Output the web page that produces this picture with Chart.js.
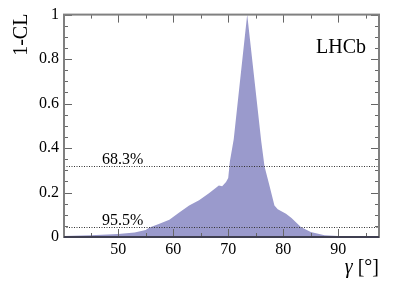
<!DOCTYPE html>
<html>
<head>
<meta charset="utf-8">
<script src="https://cdn.jsdelivr.net/npm/chart.js@4.4.0/dist/chart.umd.min.js"></script>
<style>
  html, body { margin: 0; padding: 0; background: #fff; }
  #wrap { width: 399px; height: 286px; }
</style>
</head>
<body>
<div id="wrap"><canvas id="myChart" width="399" height="286"></canvas></div>
<script>
// gamma scan (degrees) and 1-CL
const gamma = [40.2, 45, 50, 53, 55, 55.7, 57.5, 59.3, 61.1, 62.9, 64.7, 66.5, 68.3, 68.9, 69.6, 70.0, 70.3, 71.0,
  73.45, 76.0, 76.6, 77.4, 78.4, 79.0, 80.5, 81.5, 83.2, 85.0, 87.5, 90, 97.4];
const oneMinusCL = [0.004, 0.008, 0.013, 0.02, 0.032, 0.043, 0.06, 0.078, 0.11, 0.142, 0.165, 0.197, 0.232, 0.228, 0.247, 0.265, 0.34, 0.44,
  1.0, 0.43, 0.317, 0.24, 0.142, 0.125, 0.105, 0.085, 0.045, 0.022, 0.008, 0.004, 0.002];

const xTicks = [50, 60, 70, 80, 90];
const xMinorTicks = [45, 55, 65, 75, 85, 95];
const clLevels = [0.317, 0.0455];
const clLabels = ['68.3%', '95.5%'];

const serif = 'Liberation Serif';
Chart.defaults.font.family = serif;
Chart.defaults.color = '#000';

const framePlugin = {
  id: 'frame',
  afterDatasetsDraw(chart) {
    const ctx = chart.ctx;
    const ca = chart.chartArea;
    const xs = chart.scales.x, ys = chart.scales.y;
    ctx.save();

    // confidence level lines
    ctx.strokeStyle = '#333';
    ctx.lineWidth = 1;
    ctx.setLineDash([1, 1.5]);
    ctx.fillStyle = '#000';
    ctx.font = '16px "' + serif + '"';
    ctx.textAlign = 'left';
    ctx.textBaseline = 'alphabetic';
    clLevels.forEach((lvl, i) => {
      const y = Math.round(ys.getPixelForValue(lvl)) + 0.5;
      ctx.beginPath();
      ctx.moveTo(ca.left, y);
      ctx.lineTo(ca.right, y);
      ctx.stroke();
      ctx.fillText(clLabels[i], 102, y - 3);
    });
    ctx.setLineDash([]);

    // ticks
    ctx.strokeStyle = '#666';
    ctx.lineWidth = 1;
    ctx.beginPath();
    const xt = (v, len) => {
      const x = Math.round(xs.getPixelForValue(v)) + 0.5;
      ctx.moveTo(x, ca.bottom); ctx.lineTo(x, ca.bottom - len);
      ctx.moveTo(x, ca.top); ctx.lineTo(x, ca.top + len);
    };
    xTicks.forEach(v => xt(v, 8));
    xMinorTicks.forEach(v => xt(v, 4));
    for (let k = 0; k <= 20; k++) {
      const v = k * 0.05;
      const len = (k % 4 === 0) ? 8 : 4;
      const y = Math.round(ys.getPixelForValue(v)) + 0.5;
      ctx.moveTo(ca.left, y); ctx.lineTo(ca.left + len, y);
      ctx.moveTo(ca.right, y); ctx.lineTo(ca.right - len, y);
    }
    ctx.stroke();

    // frame
    ctx.strokeStyle = '#808080';
    ctx.lineWidth = 2;
    ctx.strokeRect(ca.left, ca.top, ca.right - ca.left, ca.bottom - ca.top);
    ctx.strokeStyle = '#2a2a40';
    ctx.lineWidth = 1.5;
    ctx.beginPath();
    ctx.moveTo(ca.left, ca.bottom); ctx.lineTo(ca.right, ca.bottom);
    ctx.stroke();

    // texts
    ctx.fillStyle = '#000';
    ctx.font = '20px "' + serif + '"';
    ctx.textAlign = 'right';
    ctx.textBaseline = 'middle';
    ctx.fillText('LHCb', 366, 48);

    ctx.save();
    ctx.translate(22, ca.top - 1);
    ctx.rotate(-Math.PI / 2);
    ctx.textAlign = 'right';
    ctx.fillText('1-CL', 0, 0);
    ctx.restore();

    const rest = ' [°]';
    const wRest = ctx.measureText(rest).width;
    ctx.textAlign = 'right';
    ctx.fillText(rest, ca.right, 268);
    ctx.font = 'italic 20px "' + serif + '"';
    ctx.fillText('γ', ca.right - wRest, 268);

    ctx.restore();
  }
};

new Chart(document.getElementById('myChart'), {
  type: 'line',
  data: {
    datasets: [{
      data: gamma.map((g, i) => ({ x: g, y: oneMinusCL[i] })),
      fill: 'origin',
      backgroundColor: '#9a9acc',
      borderColor: 'rgba(0,0,0,0)',
      borderWidth: 0,
      pointRadius: 0,
      tension: 0
    }]
  },
  options: {
    responsive: false,
    animation: false,
    layout: { padding: { left: 0, right: 20, top: 14, bottom: 0 } },
    plugins: { legend: { display: false }, tooltip: { enabled: false } },
    scales: {
      x: {
        type: 'linear',
        min: 40.16,
        max: 97.4,
        grid: { display: false, drawTicks: false },
        border: { display: false },
        afterBuildTicks: s => { s.ticks = xTicks.map(v => ({ value: v })); },
        afterFit: s => { s.height = 49; },
        ticks: { autoSkip: false, maxRotation: 0, padding: 3, color: '#000', font: { family: serif, size: 16 } }
      },
      y: {
        min: 0,
        max: 1,
        grid: { display: false, drawTicks: false },
        border: { display: false },
        afterFit: s => { s.width = 64; },
        ticks: {
          stepSize: 0.2, padding: 5, color: '#000', font: { family: serif, size: 16 },
          callback: v => String(+v.toFixed(1))
        }
      }
    }
  },
  plugins: [framePlugin]
});
</script>
</body>
</html>
